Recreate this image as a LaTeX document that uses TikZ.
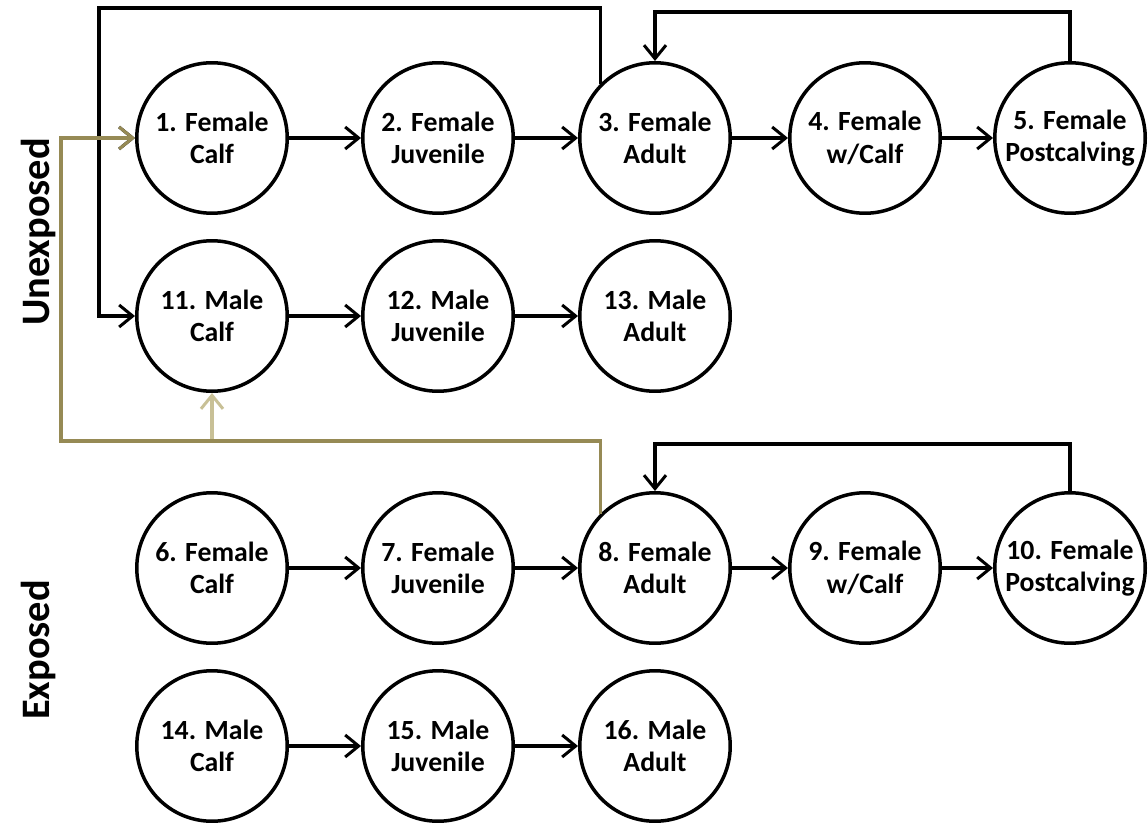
\documentclass[tikz,border=0pt]{standalone}
\usepackage{fontspec}
\setmainfont{Carlito}
\usetikzlibrary{arrows.meta}

\definecolor{goldline}{RGB}{150,138,85}
\definecolor{goldpale}{RGB}{200,192,150}

\tikzset{
  stage/.style={draw, circle, line width=0.07cm, minimum size=3.01cm, inner sep=0pt,
    align=center, font=\fontsize{15.8}{18.5}\selectfont\bfseries},
  group/.style={rotate=90, font=\fontsize{23}{26}\selectfont\bfseries},
  link/.style={line width=0.07cm, line join=miter,
    -{Straight Barb[length=0.27cm,width=0.44cm,line width=0.06cm]}},
}

\begin{document}
\begin{tikzpicture}[x=0.02cm, y=-0.02cm]

\useasboundingbox (0,0) rectangle (1148,824);

% unexposed
\node[stage] (n1) at (212,138) {1. Female\\Calf};
\node[stage] (n2) at (438,138) {2. Female\\Juvenile};
\node[stage] (n3) at (655,138) {3. Female\\Adult};
\node[stage] (n4) at (865,138) {4. Female\\w/Calf};
\node[stage] (n5) at (1070,138) {5. Female\\Postcalving};

\node[stage] (n11) at (212,316) {11. Male\\Calf};
\node[stage] (n12) at (438,316) {12. Male\\Juvenile};
\node[stage] (n13) at (655,316) {13. Male\\Adult};

% exposed
\node[stage] (n6) at (212,568) {6. Female\\Calf};
\node[stage] (n7) at (438,568) {7. Female\\Juvenile};
\node[stage] (n8) at (655,568) {8. Female\\Adult};
\node[stage] (n9) at (865,568) {9. Female\\w/Calf};
\node[stage] (n10) at (1070,568) {10. Female\\Postcalving};

\node[stage] (n14) at (212,746) {14. Male\\Calf};
\node[stage] (n15) at (438,746) {15. Male\\Juvenile};
\node[stage] (n16) at (655,746) {16. Male\\Adult};

\node[group] (unexp) at (38,232) {Unexposed};
\node[group] (exp) at (38,650) {Exposed};

\coordinate (topL) at (99,8);
\coordinate (loopU) at (0,12);
\coordinate (loopE) at (0,444);
\coordinate (goldL) at (61,441);

% stage to stage
\foreach \a/\b in {n1/n2,n2/n3,n3/n4,n4/n5,n11/n12,n12/n13,
                   n6/n7,n7/n8,n8/n9,n9/n10,n14/n15,n15/n16}
  \draw[link] (\a) -- (\b);

% births, unexposed
\draw[link] (n3.135) |- (topL) |- (n11.west);
\draw[link] (topL |- n1.west) -- (n1.west);

% return to adult
\draw[link] (n5.north) -- (n5 |- loopU) -| (n3.north);
\draw[link] (n10.north) -- (n10 |- loopE) -| (n8.north);

% births, exposed
\draw[link, goldpale] (n11 |- goldL) -- (n11.south);
\draw[link, goldline] (n8.135) |- (goldL) |- (n1.west);

\end{tikzpicture}
\end{document}
